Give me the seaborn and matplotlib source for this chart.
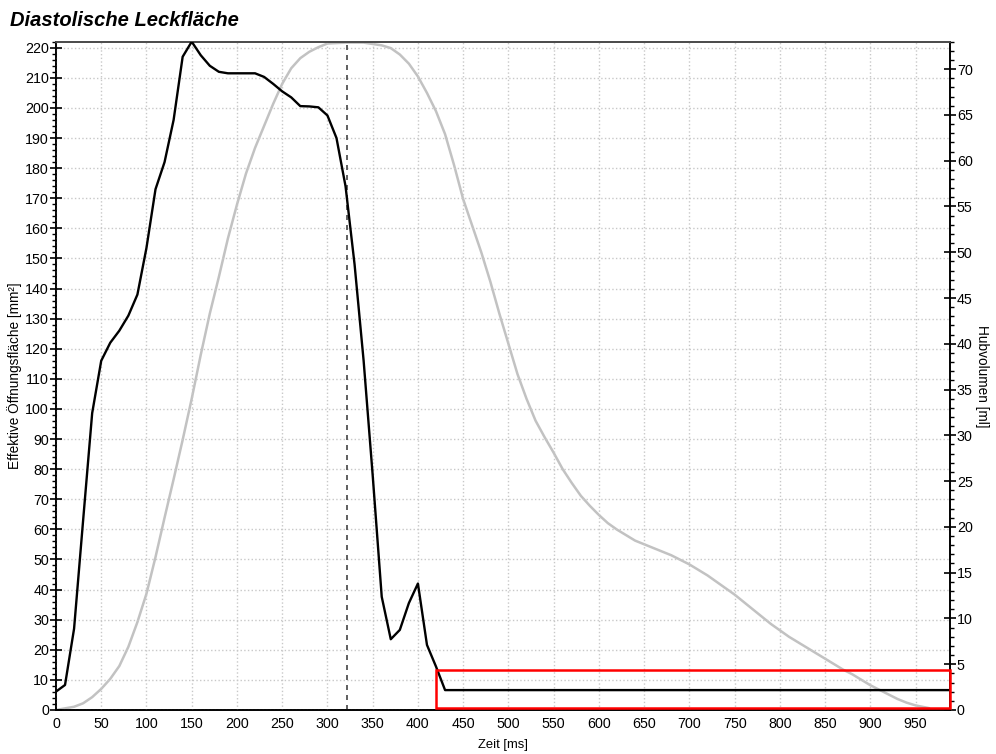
import numpy as np
import pandas as pd
import seaborn as sns
import matplotlib.pyplot as plt
from matplotlib.patches import Rectangle
from matplotlib.ticker import MultipleLocator

# effective opening area [mm²] over time [ms]
zeit_flaeche = [0, 10, 20, 30, 40, 50, 60, 70, 80, 90, 100, 110, 120, 130, 140, 150,
                160, 170, 180, 190, 200, 210, 220, 230, 240, 250, 260, 270, 280, 290,
                300, 310, 320, 330, 340, 350, 360, 370, 380, 390, 400, 410, 420, 430, 988]
flaeche = [6.1, 8.3, 27, 63, 98.6, 116, 122, 126, 131, 138, 153.5, 173, 182, 196, 217, 222,
           217.5, 214, 212, 211.5, 211.5, 211.5, 211.5, 210.3, 208, 205.5, 203.5, 200.6, 200.5, 200.2,
           197.5, 190, 174, 148, 116, 78, 37.6, 23.5, 26.6, 35.5, 42, 21.6, 14.4, 6.6, 6.6]

# stroke volume [ml] over time [ms]
zeit_volumen = [0, 20, 30, 40, 50, 60, 70, 80, 90, 100, 110, 120, 130, 140, 150, 160, 170,
                180, 190, 200, 210, 220, 230, 240, 250, 260, 270, 280, 290, 300, 320, 340,
                360, 370, 380, 390, 400, 410, 420, 430, 440, 450, 460, 470, 480, 490, 500,
                510, 520, 530, 540, 550, 560, 570, 580, 590, 600, 610, 620, 630, 640, 650,
                660, 670, 680, 690, 700, 710, 720, 730, 740, 750, 760, 770, 780, 790, 800,
                810, 820, 830, 840, 850, 860, 870, 880, 890, 900, 910, 920, 930, 940, 950, 965]
volumen = [0, 0.35, 0.73, 1.4, 2.3, 3.4, 4.8, 6.9, 9.6, 12.7, 16.7, 21, 25.2, 29.5, 34, 38.8, 43.3,
           47.3, 51.5, 55.2, 58.6, 61.4, 63.8, 66.2, 68.4, 70.1, 71.2, 71.9, 72.4, 72.8, 72.9, 72.9,
           72.6, 72.3, 71.6, 70.6, 69.2, 67.4, 65.4, 62.9, 59.5, 55.8, 52.9, 50, 46.8, 43.3, 40,
           36.7, 34, 31.6, 29.8, 28.1, 26.3, 24.8, 23.4, 22.3, 21.3, 20.4, 19.7, 19.1, 18.5, 18.1,
           17.7, 17.3, 16.9, 16.4, 15.9, 15.3, 14.7, 14.0, 13.3, 12.6, 11.8, 11.0, 10.2, 9.4, 8.7,
           8.0, 7.4, 6.8, 6.2, 5.6, 5.0, 4.4, 3.9, 3.3, 2.7, 2.2, 1.7, 1.2, 0.8, 0.5, 0.2]

marker_zeit = 322          # dashed vertical marker
box_x = [420, 988]         # highlighted region (x range)
box_y = [0.7, 13.3]        # highlighted region (left axis units)

sns.set_style("white")
plt.rcParams['font.family'] = ['Liberation Sans', 'DejaVu Sans']
plt.rcParams.update({'text.color': 'black', 'axes.labelcolor': 'black',
                     'xtick.color': 'black', 'ytick.color': 'black'})

df_f = pd.DataFrame({'Zeit': zeit_flaeche, 'Flaeche': flaeche})
df_v = pd.DataFrame({'Zeit': zeit_volumen, 'Volumen': volumen})

fig = plt.figure(figsize=(9.96, 7.54), dpi=100)
ax = fig.add_axes([0.0562, 0.0584, 0.8976, 0.8863])
ax2 = ax.twinx()

sns.lineplot(data=df_v, x='Zeit', y='Volumen', ax=ax2, color='#c2c2c2', linewidth=1.8)
sns.lineplot(data=df_f, x='Zeit', y='Flaeche', ax=ax, color='black', linewidth=1.7, zorder=5)
ax.set_zorder(ax2.get_zorder() + 1)
ax.patch.set_visible(False)

ax.axvline(marker_zeit, color='#444444', linestyle=(0, (3, 3)), linewidth=1.2)
ax.add_patch(Rectangle((box_x[0], box_y[0]), box_x[1] - box_x[0], box_y[1] - box_y[0],
                       fill=False, edgecolor='red', linewidth=1.8, clip_on=False, zorder=6))

ax.set_xlim(0, 988)
ax.set_ylim(0, 222)
ax2.set_ylim(0, 73)

ax.xaxis.set_major_locator(MultipleLocator(50))
ax.xaxis.set_minor_locator(MultipleLocator(10))
ax.yaxis.set_major_locator(MultipleLocator(10))
ax.yaxis.set_minor_locator(MultipleLocator(2))
ax2.yaxis.set_major_locator(MultipleLocator(5))
ax2.yaxis.set_minor_locator(MultipleLocator(1))

ax.grid(True, which='major', color='#c8c8c8', linestyle=':', linewidth=1)

for a in (ax, ax2):
    a.tick_params(which='major', direction='inout', length=8, width=1.2, labelsize=10.3, pad=1)
    a.tick_params(which='minor', direction='out', length=3, width=1)
    for s in a.spines.values():
        s.set_color('black')
        s.set_linewidth(1.2)
ax.spines['top'].set_color('#555555')

ax.set_xlabel('Zeit [ms]', fontsize=9.4, labelpad=1)
ax.xaxis.set_label_coords(0.5, -0.044)
ax.set_ylabel('Effektive Öffnungsfläche [mm²]', fontsize=9.8, labelpad=2)
ax2.set_ylabel('Hubvolumen [ml]', fontsize=9.8, rotation=-90, labelpad=12)

fig.text(0.010, 0.960, 'Diastolische Leckfläche', fontsize=14.5, fontweight='bold',
         fontstyle='italic', ha='left', va='bottom')

fig.savefig('out.png', dpi=100)
